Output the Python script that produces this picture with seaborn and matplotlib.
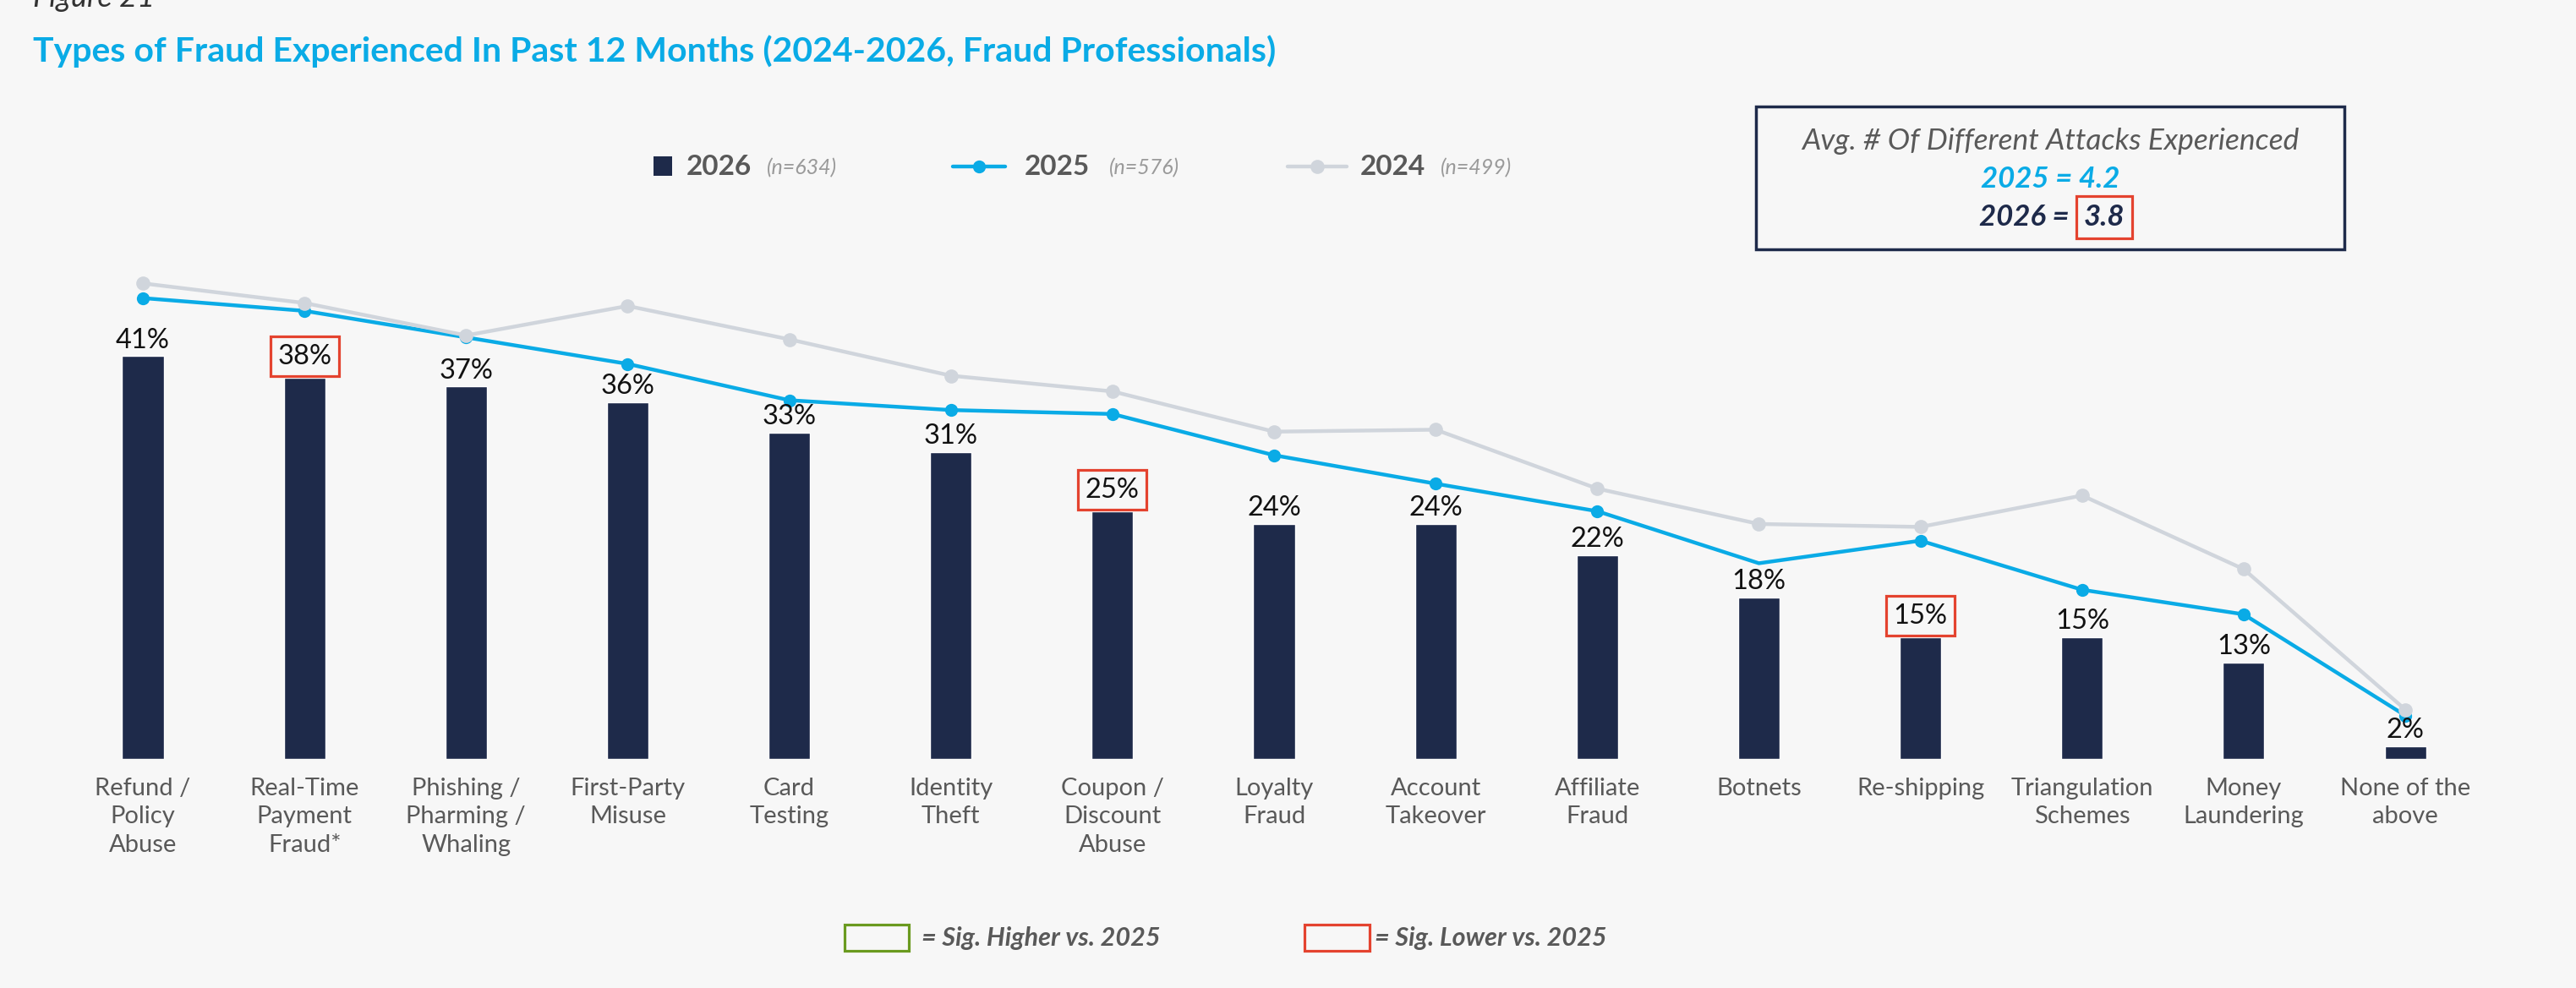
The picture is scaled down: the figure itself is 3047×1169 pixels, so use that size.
import numpy as np
import pandas as pd
import matplotlib.pyplot as plt
import matplotlib.patches as mpatches
from matplotlib.lines import Line2D
import seaborn as sns

categories = ["Refund /\nPolicy\nAbuse", "Real-Time\nPayment\nFraud*", "Phishing /\nPharming /\nWhaling",
              "First-Party\nMisuse", "Card\nTesting", "Identity\nTheft", "Coupon /\nDiscount\nAbuse",
              "Loyalty\nFraud", "Account\nTakeover", "Affiliate\nFraud", "Botnets", "Re-shipping",
              "Triangulation\nSchemes", "Money\nLaundering", "None of the\nabove"]
# bar heights as drawn (2026), and the printed labels
bars_2026 = [41.0, 38.8, 37.9, 36.3, 33.2, 31.2, 25.2, 23.9, 23.9, 20.7, 16.4, 12.4, 12.4, 9.8, 1.3]
labels_2026 = ["41%", "38%", "37%", "36%", "33%", "31%", "25%", "24%", "24%", "22%",
               "18%", "15%", "15%", "13%", "2%"]
sig_lower = [1, 6, 11]
line_2025 = [46.9, 45.6, 42.9, 40.2, 36.5, 35.5, 35.1, 30.9, 28.0, 25.2, 19.9, 22.2, 17.2, 14.7, 4.4]
line_2024 = [48.4, 46.4, 43.1, 46.1, 42.7, 39.0, 37.4, 33.3, 33.5, 27.5, 23.9, 23.6, 26.8, 19.3, 5.0]

NAVY = "#1E2A4A"
BLUE = "#0AABE6"
GREY_LINE = "#D0D5DC"
RED = "#E4432F"
GREEN = "#6A9A1F"
TXT = "#595959"
BG = "#F7F7F7"

if __name__ == "__main__":
    sns.set_style("white")
    plt.rcParams['font.family'] = ['Lato', 'DejaVu Sans']

    df = pd.DataFrame({"pos": np.arange(len(categories)), "v2026": bars_2026,
                       "v2025": line_2025, "v2024": line_2024})

    fig = plt.figure(figsize=(30.47, 11.69), dpi=100, facecolor=BG)
    ax = fig.add_axes([0.0241, 0.2321, 0.9410, 0.5964])
    ax.set_facecolor(BG)

    sns.barplot(data=df, x="pos", y="v2026", native_scale=True, width=0.257,
                color=NAVY, saturation=1, ax=ax, zorder=1)
    sns.lineplot(data=df, x="pos", y="v2025", color=BLUE, lw=3.2, marker="o", markersize=11,
                 markeredgewidth=0, markevery=[i for i in range(len(categories)) if i != 10],
                 ax=ax, zorder=3)
    sns.lineplot(data=df, x="pos", y="v2024", color=GREY_LINE, lw=3.2, marker="o", markersize=12,
                 markeredgewidth=0, ax=ax, zorder=4)

    for i, v in enumerate(bars_2026):
        if i in sig_lower:
            ax.annotate(labels_2026[i], (i, v), xytext=(0, 11.5), textcoords="offset points",
                        ha="center", va="baseline", fontsize=23.5, color="#111111", zorder=5,
                        bbox=dict(boxstyle="square,pad=0.26", fc="none", ec=RED, lw=2.3))
        else:
            ax.annotate(labels_2026[i], (i, v), xytext=(0, 7), textcoords="offset points",
                        ha="center", va="baseline", fontsize=23.5, color="#111111", zorder=5)

    ax.set_xlim(-0.5, len(categories) - 0.5)
    ax.set_ylim(0, 60)
    ax.set_xticks(range(len(categories)))
    ax.set_xticklabels(categories, fontsize=21, color=TXT, linespacing=1.36, va="top")
    ax.tick_params(axis="x", length=0, pad=16)
    ax.set_yticks([])
    ax.set_xlabel("")
    ax.set_ylabel("")
    sns.despine(ax=ax, left=True, bottom=True)

    W, H = 3047, 1169
    fx = lambda px: px / W
    fy = lambda py: 1 - py / H

    fig.text(fx(39), fy(8), "Figure 21", fontsize=26, style="italic", color="#333333", va="baseline")
    fig.text(fx(39), fy(61), "Types of Fraud Experienced In Past 12 Months (2024-2026, Fraud Professionals)",
             fontsize=29.5, fontweight="bold", color="#0AABE6", va="center")

    # top legend
    fig.patches.append(mpatches.Rectangle((fx(773), fy(208)), fx(22), 23 / H, transform=fig.transFigure,
                                          fc=NAVY, ec="none"))
    fig.text(fx(812), fy(198), "2026", fontsize=24, fontweight="bold", color=TXT, va="center")
    fig.text(fx(907), fy(199), "(n=634)", fontsize=18, style="italic", color="#9A9A9A", va="center")
    fig.lines.append(Line2D([fx(1127), fx(1189)], [fy(197), fy(197)], transform=fig.transFigure,
                            color=BLUE, lw=3.2))
    fig.lines.append(Line2D([fx(1158)], [fy(197)], transform=fig.transFigure, color=BLUE,
                            marker="o", markersize=11, markeredgewidth=0))
    fig.text(fx(1212), fy(198), "2025", fontsize=24, fontweight="bold", color=TXT, va="center")
    fig.text(fx(1312), fy(199), "(n=576)", fontsize=18, style="italic", color="#9A9A9A", va="center")
    fig.lines.append(Line2D([fx(1523), fx(1593)], [fy(197), fy(197)], transform=fig.transFigure,
                            color=GREY_LINE, lw=3.2))
    fig.lines.append(Line2D([fx(1558)], [fy(197)], transform=fig.transFigure, color=GREY_LINE,
                            marker="o", markersize=12, markeredgewidth=0))
    fig.text(fx(1609), fy(198), "2024", fontsize=24, fontweight="bold", color=TXT, va="center")
    fig.text(fx(1704), fy(199), "(n=499)", fontsize=18, style="italic", color="#9A9A9A", va="center")

    # average attacks box
    fig.patches.append(mpatches.Rectangle((fx(2077), fy(295)), fx(2773 - 2077), (295 - 126) / H,
                                          transform=fig.transFigure, fc="none", ec=NAVY, lw=2.5))
    fig.text(fx(2425), fy(167), "Avg. # Of Different Attacks Experienced", fontsize=25.5, style="italic",
             color=TXT, ha="center", va="center")
    fig.text(fx(2425), fy(212), "2025 = 4.2", fontsize=25, style="italic", fontweight="bold",
             color=BLUE, ha="center", va="center")
    fig.text(fx(2448), fy(257), "2026 =", fontsize=25, style="italic", fontweight="bold",
             color=NAVY, ha="right", va="center")
    fig.text(fx(2489), fy(257), "3.8", fontsize=25, style="italic", fontweight="bold",
             color=NAVY, ha="center", va="center",
             bbox=dict(boxstyle="square,pad=0.25", fc="none", ec=RED, lw=2.3))

    # significance legend
    fig.patches.append(mpatches.Rectangle((fx(999), fy(1125)), fx(76), 31 / H, transform=fig.transFigure,
                                          fc="none", ec=GREEN, lw=2.3))
    fig.text(fx(1090), fy(1110), "= Sig. Higher vs. 2025", fontsize=22, style="italic",
             fontweight="bold", color=TXT, va="center")
    fig.patches.append(mpatches.Rectangle((fx(1543), fy(1125)), fx(77), 31 / H, transform=fig.transFigure,
                                          fc="none", ec=RED, lw=2.3))
    fig.text(fx(1626), fy(1110), "= Sig. Lower vs. 2025", fontsize=22, style="italic",
             fontweight="bold", color=TXT, va="center")

    fig.savefig("out.png", dpi=100, facecolor=BG)
    plt.close()
